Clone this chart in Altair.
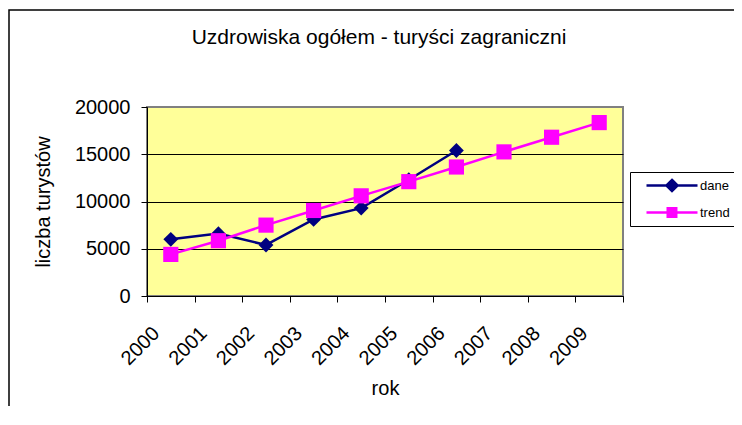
import altair as alt
import pandas as pd

# ---- data ----
years = ["2000", "2001", "2002", "2003", "2004", "2005", "2006", "2007", "2008", "2009"]
dane = [6000, 6600, 5400, 8100, 9300, 12300, 15400]
trend = [4400, 5850, 7500, 9050, 10600, 12100, 13650, 15250, 16800, 18350]

series_names = ["dane", "trend"]
series_colors = ["#000080", "#FF00FF"]

rows = [{"rok": y, "series": "dane", "value": v} for y, v in zip(years, dane)]
rows += [{"rok": y, "series": "trend", "value": v} for y, v in zip(years, trend)]
df = pd.DataFrame(rows)

FONT = "Liberation Sans"

# legend glyphs: line with marker (unit = sqrt(symbolSize)/2 px)
glyph_dane = "M0.375,0L6.75,0M3.5625,-0.7L4.2625,0L3.5625,0.7L2.8625,0Z"
glyph_trend = "M0.375,0L6.75,0M3.03,-0.53L4.09,-0.53L4.09,0.53L3.03,0.53Z"

color_scale = alt.Scale(domain=series_names, range=series_colors)
is_dane = alt.datum.series == series_names[0]

x_enc = alt.X(
    "rok:N",
    scale=alt.Scale(type="band", domain=years, paddingInner=0, paddingOuter=0),
    axis=alt.Axis(
        title="rok",
        labelAngle=-45,
        labelAlign="right",
        labelBaseline="middle",
        labelOffset=-15,
        labelPadding=28,
        tickBand="extent",
        tickSize=6,
        tickColor="#000000",
        domainColor="#000000",
        labelFont=FONT,
        labelFontSize=20,
        labelColor="#000000",
        titleFont=FONT,
        titleFontSize=20,
        titleFontWeight="normal",
        titleColor="#000000",
        titlePadding=10,
        grid=False,
    ),
)

y_enc = alt.Y(
    "value:Q",
    scale=alt.Scale(domain=[0, 20000], nice=False),
    axis=alt.Axis(
        title="liczba turystów",
        values=[0, 5000, 10000, 15000, 20000],
        format="d",
        tickSize=6,
        tickColor="#000000",
        domainColor="#000000",
        labelFont=FONT,
        labelFontSize=20,
        labelColor="#000000",
        labelPadding=11,
        titleFont=FONT,
        titleFontSize=20,
        titleFontWeight="normal",
        titleColor="#000000",
        titlePadding=21,
        grid=True,
        gridColor={"condition": {"test": "datum.value >= 20000", "value": "#808080"}, "value": "#000000"},
        gridWidth=1,
    ),
)

base = alt.Chart(df)

series_color = alt.condition(is_dane, alt.value(series_colors[0]), alt.value(series_colors[1]))

lines = base.mark_line(strokeWidth=2.5).encode(
    x=x_enc,
    y=y_enc,
    color=series_color,
    detail="series:N",
)

points = base.mark_point(filled=True, opacity=1).encode(
    x="rok:N",
    y="value:Q",
    color=series_color,
    shape=alt.condition(is_dane, alt.value("diamond"), alt.value("square")),
    size=alt.condition(is_dane, alt.value(220), alt.value(230)),
)

legend_def = alt.Legend(
    title=None,
    orient="none",
    legendX=483,
    legendY=65,
    strokeColor="#000000",
    padding=4,
    symbolSize=256,
    symbolStrokeWidth=2.5,
    symbolOpacity=1,
    labelFont=FONT,
    labelFontSize=13,
    labelColor="#000000",
    labelOffset=47,
    rowPadding=6,
)

# legend only: no marks drawn (explicit scale domains keep the entries)
legend_layer = base.transform_filter("false").mark_point(filled=True).encode(
    x="rok:N",
    y="value:Q",
    color=alt.Color("series:N", scale=color_scale, legend=legend_def),
    stroke=alt.Stroke("series:N", scale=color_scale, legend=legend_def),
    shape=alt.Shape("series:N", scale=alt.Scale(domain=series_names, range=[glyph_dane, glyph_trend]), legend=legend_def),
)

frame = alt.Chart(alt.Data(values=[{"f": 1}])).mark_rect(
    fill="transparent", stroke="#000000", strokeWidth=1.5
).encode(
    x=alt.value(-138),
    x2=alt.value(700),
    y=alt.value(-97),
    y2=alt.value(400),
)

chart = alt.layer(lines, points, legend_layer, frame).properties(
    width=476,
    height=189,
    autosize=alt.AutoSizeParams(type="none"),
    padding={"left": 139, "top": 99, "right": 111, "bottom": 110},
    title=alt.TitleParams(
        "Uzdrowiska ogółem - turyści zagraniczni",
        font=FONT,
        fontSize=21,
        fontWeight="normal",
        color="#000000",
        anchor="middle",
        baseline="alphabetic",
        offset=-56,
        dx=-6,
    ),
).configure_view(
    fill="#FFFF99",
    stroke="#808080",
    strokeWidth=2,
)

chart.save("out.html", embed_options={"renderer": "svg", "actions": False})
